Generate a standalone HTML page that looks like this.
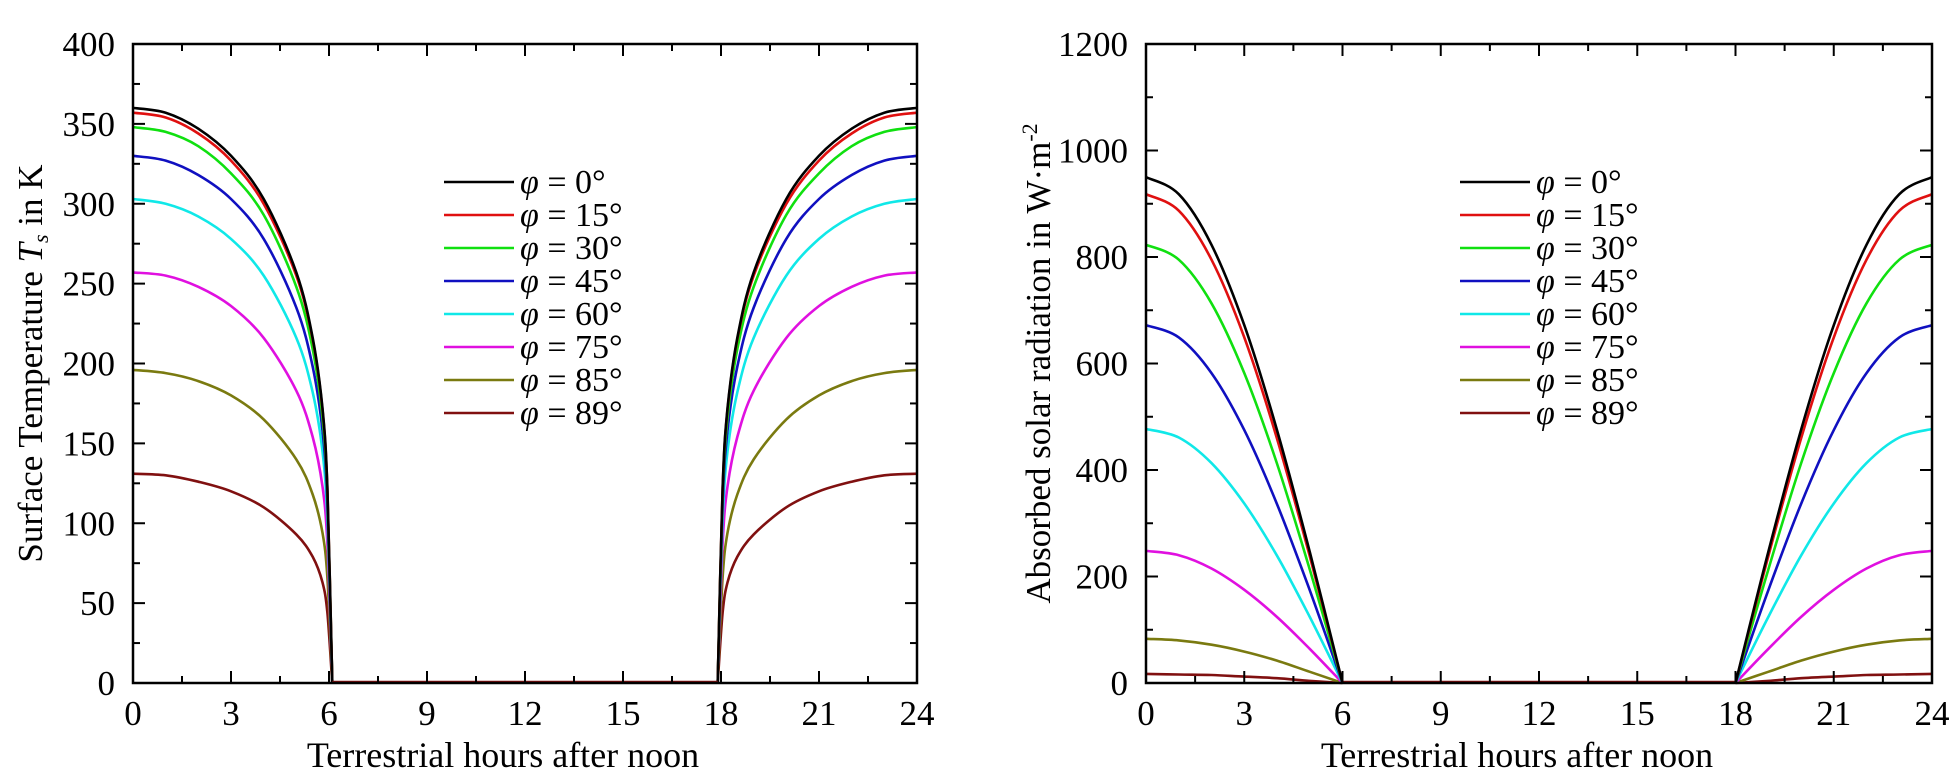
<!DOCTYPE html>
<html><head><meta charset="utf-8"><style>
html,body{margin:0;padding:0;background:#fff;}
svg{display:block;font-family:"Liberation Serif",serif;}
</style></head><body>
<svg id="c" width="1949" height="777" viewBox="0 0 1949 777" xmlns="http://www.w3.org/2000/svg"></svg>
<script>
const seriesNames = ["φ = 0°","φ = 15°","φ = 30°","φ = 45°","φ = 60°","φ = 75°","φ = 85°","φ = 89°"];
const seriesColors = ["#000000","#e01010","#10e010","#1010c0","#10e8e8","#e010e0","#7a7a10","#801010"];
// Left chart: surface temperature
const tempHoursAM = [0,1,2,3,4,5,5.5,5.8,5.95,6.1];
const tempHoursPM = [17.9,18.05,18.2,18.5,19,20,21,22,23,24];
const tempAM = [
 [360,357,347,330,303,257,216,172,122,0],
 [357,354,344,327,300,255,215,171,121,0],
 [348,345,336,319,293,248,209,166,118,0],
 [330,327,318,303,278,235,198,158,112,0],
 [303,300,292,278,255,216,182,145,102,0],
 [257,255,248,236,216,183,154,123,87,0],
 [196,194,189,180,165,140,118,94,66,0],
 [131,130,126,120,110,93,79,63,44,0]
];
const tempPM = [
 [0,122,172,216,257,303,330,347,357,360],
 [0,121,171,215,255,300,327,344,354,357],
 [0,118,166,209,248,293,319,336,345,348],
 [0,112,158,198,235,278,303,318,327,330],
 [0,102,145,182,216,255,278,292,300,303],
 [0,87,123,154,183,216,236,248,255,257],
 [0,66,94,118,140,165,180,189,194,196],
 [0,44,63,79,93,110,120,126,130,131]
];
const tempTicks = [0,50,100,150,200,250,300,350,400];
// Right chart: absorbed solar radiation
const radHoursAM = [0,1,2,3,4,5,6];
const radHoursPM = [18,19,20,21,22,23,24];
const radAM = [
 [950,918,823,672,475,246,0],
 [918,887,795,649,459,238,0],
 [823,795,713,582,412,213,0],
 [672,649,582,475,336,174,0],
 [477,461,413,337,239,124,0],
 [248,240,215,175,124,64,0],
 [83,80,72,59,42,21,0],
 [17,16,15,12,9,4,0]
];
const radPM = [
 [0,246,475,672,823,918,950],
 [0,238,459,649,795,887,918],
 [0,213,412,582,713,795,823],
 [0,174,336,475,582,649,672],
 [0,124,239,337,413,461,477],
 [0,64,124,175,215,240,248],
 [0,21,42,59,72,80,83],
 [0,4,9,12,15,16,17]
];
const radTicks = [0,200,400,600,800,1000,1200];
const xTicks = [0,3,6,9,12,15,18,21,24];

const NS="http://www.w3.org/2000/svg";
const svg=document.getElementById('c');
function mk(tag,attrs,parent){const e=document.createElementNS(NS,tag);for(const k in attrs)e.setAttribute(k,attrs[k]);(parent||svg).appendChild(e);return e;}

function smoothPath(pts){
  let d="M"+pts[0][0].toFixed(1)+","+pts[0][1].toFixed(1);
  for(let i=0;i<pts.length-1;i++){
    const p0=pts[Math.max(0,i-1)],p1=pts[i],p2=pts[i+1],p3=pts[Math.min(pts.length-1,i+2)];
    let c1x=p1[0]+(p2[0]-p0[0])/6,c1y=p1[1]+(p2[1]-p0[1])/6;
    let c2x=p2[0]-(p3[0]-p1[0])/6,c2y=p2[1]-(p3[1]-p1[1])/6;
    d+=" C"+c1x.toFixed(1)+","+c1y.toFixed(1)+" "+c2x.toFixed(1)+","+c2y.toFixed(1)+" "+p2[0].toFixed(1)+","+p2[1].toFixed(1);
  }
  return d;
}

function chart(cfg){
  const g=mk('g',{});
  
  
  const L=cfg.x0,R=cfg.x1,T=44,B=683;
  const sx=h=>L+(R-L)*h/24;
  const sy=v=>B-(B-T)*v/cfg.ymax;
  for(let s=seriesNames.length-1;s>=0;s--){
    const am=cfg.hAM.map((h,i)=>[sx(h),sy(cfg.am[s][i])]);
    const pm=cfg.hPM.map((h,i)=>[sx(h),sy(cfg.pm[s][i])]);
    const p1=mk('path',{d:smoothPath(am),fill:'none',stroke:seriesColors[s],'stroke-width':2.6},g);
    
    
    const p2=mk('path',{d:smoothPath(pm),fill:'none',stroke:seriesColors[s],'stroke-width':2.6},g);
    
    
  }
  const z=mk('line',{x1:sx(cfg.hAM[cfg.hAM.length-1]),x2:sx(cfg.hPM[0]),y1:B-1,y2:B-1,stroke:'#801010','stroke-width':2.6},g);
  
  
  const fr=mk('rect',{x:L,y:T,width:R-L,height:B-T,fill:'none',stroke:'#000','stroke-width':2.5},g);
  
  
  for(let h=0;h<=24;h+=1.5){
    const len=(h%3===0)?12:7;
    mk('line',{x1:sx(h),x2:sx(h),y1:B,y2:B-len,stroke:'#000','stroke-width':2},g);
    mk('line',{x1:sx(h),x2:sx(h),y1:T,y2:T+len,stroke:'#000','stroke-width':2},g);
  }
  xTicks.forEach(h=>{
    const t=mk('text',{x:sx(h),y:B+42,'text-anchor':'middle','font-size':35},g);
    t.textContent=h;
    
    
  });
  const st=cfg.ticks[1]-cfg.ticks[0];
  for(let v=0;v<=cfg.ymax;v+=st/2){
    const len=(Math.round(v/st*2)%2===0)?12:7;
    mk('line',{x1:L,x2:L+len,y1:sy(v),y2:sy(v),stroke:'#000','stroke-width':2},g);
    mk('line',{x1:R,x2:R-len,y1:sy(v),y2:sy(v),stroke:'#000','stroke-width':2},g);
  }
  cfg.ticks.forEach(v=>{
    const t=mk('text',{x:L-18,y:sy(v)+12,'text-anchor':'end','font-size':35},g);
    t.textContent=v;
    
    
  });
  const xt=mk('text',{x:(L+R)/2-22,y:767,'text-anchor':'middle','font-size':36},g);
  xt.textContent='Terrestrial hours after noon';
  
  
  const yt=mk('text',{x:0,y:0,'text-anchor':'middle','font-size':35,transform:'translate('+cfg.ytx+','+((T+B)/2)+') rotate(-90)'},g);
  yt.innerHTML=cfg.ytitle;
  
  
  seriesNames.forEach((n,i)=>{
    const y=182+33*i;
    const ln=mk('line',{x1:cfg.lx,x2:cfg.lx+70,y1:y,y2:y,stroke:seriesColors[i],'stroke-width':2.6},g);
    
    
    const t=mk('text',{x:cfg.lx+76,y:y+11,'font-size':34},g);
    t.innerHTML='<tspan font-style="italic">φ</tspan>'+n.slice(1);
    
    
  });
}
chart({name:'temperature-chart',x0:133,x1:917,ymax:400,ticks:tempTicks,hAM:tempHoursAM,hPM:tempHoursPM,am:tempAM,pm:tempPM,lx:444,ytx:42,
  ytitle:'Surface Temperature <tspan font-style="italic">T</tspan><tspan font-style="italic" font-size="22" dy="6">s</tspan><tspan dy="-6"> in K</tspan>'});
chart({name:'radiation-chart',x0:1146,x1:1932,ymax:1200,ticks:radTicks,hAM:radHoursAM,hPM:radHoursPM,am:radAM,pm:radPM,lx:1460,ytx:1050,
  ytitle:'Absorbed solar radiation in W·m<tspan font-size="22" dy="-13">-2</tspan>'});
</script>
</body></html>
